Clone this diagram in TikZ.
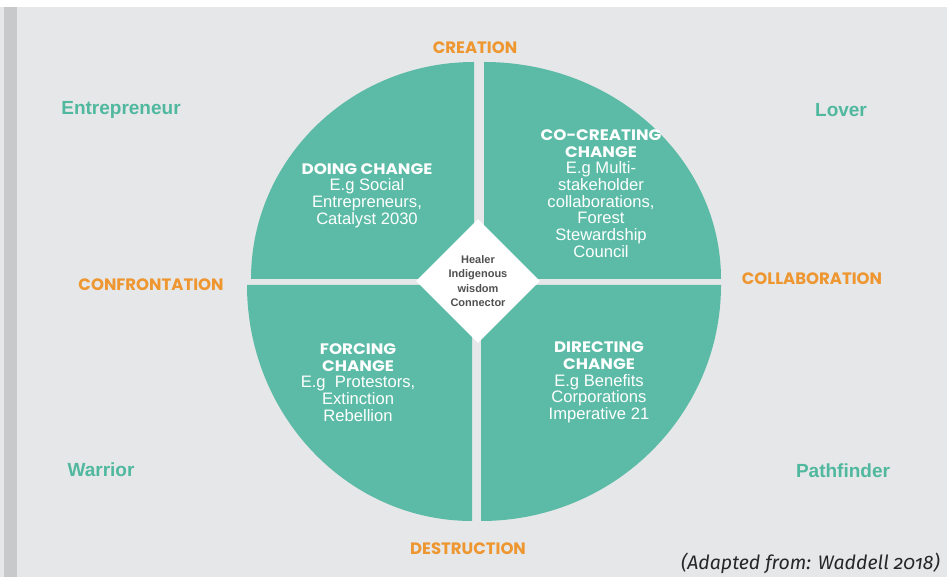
\documentclass[tikz,border=0pt]{standalone}
\usepackage{fontspec}
\setmainfont{Liberation Sans}
\newfontfamily\gothic{Poppins}
\newfontfamily\gothicwide[FakeStretch=1.1]{Poppins}
\newfontfamily\capfont[Numbers=OldStyle]{Fira Sans}
\usetikzlibrary{shapes.geometric}
\definecolor{bggray}{HTML}{E6E7E8}
\definecolor{bargray}{HTML}{C8C9CA}
\definecolor{quadteal}{HTML}{5BBBA6}
\definecolor{labteal}{HTML}{4FB89F}
\definecolor{axorange}{HTML}{EE9630}
\definecolor{dtext}{HTML}{505050}
\tikzset{
  quad/.style={fill=quadteal, draw=none},
  axislab/.style={font=\gothic\bfseries\fontsize{16.5}{18}\selectfont, text=axorange, inner sep=0pt},
  rolelab/.style={font=\bfseries\fontsize{19}{21}\selectfont, text=labteal, inner sep=0pt},
  quadtext/.style={align=center, text=white, inner sep=0pt, font=\fontsize{16.6}{16.7}\selectfont},
  centerdiamond/.style={diamond, fill=white, draw=none, inner sep=0pt, minimum width=124pt, minimum height=124pt, align=center, text=dtext, font=\bfseries\fontsize{11}{14.2}\selectfont}
}
\newcommand{\qtitle}[1]{{\gothicwide\bfseries\fontsize{15.2}{16.7}\selectfont #1}}
\begin{document}
\begin{tikzpicture}[x=1pt,y=1pt]
\useasboundingbox (0,0) rectangle (947,577);
\fill[white] (0,0) rectangle (947,577);
\fill[bggray] (0,0) rectangle (947,570);
\fill[bargray] (4,0) rectangle (17,570);
% quadrants
\coordinate (ctl) at (474,298);
\coordinate (ctr) at (484,298);
\coordinate (cbl) at (472,292);
\coordinate (cbr) at (481,292);
\fill[quad] (ctl) -- (251,298) arc[start angle=180, end angle=90, x radius=223, y radius=217] -- cycle;
\fill[quad] (ctr) -- (484,515) arc[start angle=90, end angle=0, x radius=237, y radius=217] -- cycle;
\fill[quad] (cbl) -- (247,292) arc[start angle=180, end angle=270, x radius=225, y radius=236] -- cycle;
\fill[quad] (cbr) -- (481,56) arc[start angle=270, end angle=360, x radius=240, y radius=236] -- cycle;
% centre diamond
\node[centerdiamond] (heal) at (478,296) {Healer\\Indigenous\\wisdom\\Connector};
% quadrant texts
\node[quadtext] (doing) at (367,381.5) {\qtitle{DOING CHANGE}\\E.g Social\\Entrepreneurs,\\Catalyst 2030};
\node[quadtext] (cocreate) at (601,383.5) {\qtitle{CO-CREATING}\\\qtitle{CHANGE}\\E.g Multi-\\stakeholder\\collaborations,\\Forest\\Stewardship\\Council};
\node[quadtext] (forcing) at (358,194.5) {\qtitle{FORCING}\\\qtitle{CHANGE}\\E.g\ \ Protestors,\\Extinction\\Rebellion};
\node[quadtext] (directing) at (599,194.5) {\qtitle{DIRECTING}\\\qtitle{CHANGE}\\E.g Benefits\\Corporations\\Imperative 21};
% axis labels
\node[axislab] (creation) at (475,529) {CREATION};
\node[axislab] (confront) at (151,292) {CONFRONTATION};
\node[axislab] (collab) at (812,298) {COLLABORATION};
\node[axislab] (destruct) at (468,28) {DESTRUCTION};
% role labels
\node[rolelab] (entre) at (121,467) {Entrepreneur};
\node[rolelab] (lover) at (841,467) {Lover};
\node[rolelab] (warrior) at (101,107) {Warrior};
\node[rolelab] (pathf) at (843,106) {Pathfinder};
% caption
\node[anchor=east, inner sep=0pt, text=black!85, font=\capfont\itshape\fontsize{19.5}{21}\selectfont] (caption) at (940,14) {(Adapted from: Waddell 2018)};
\end{tikzpicture}
\end{document}
